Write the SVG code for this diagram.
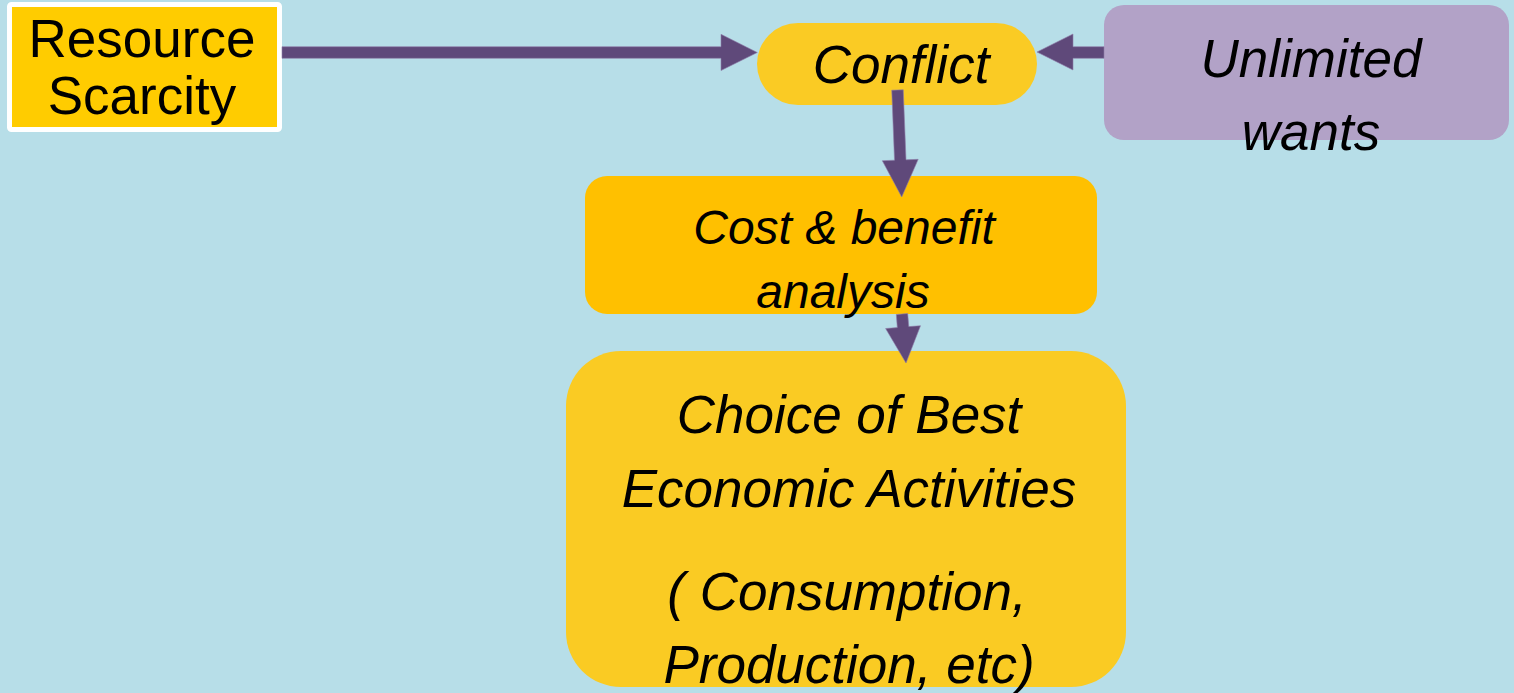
<svg xmlns="http://www.w3.org/2000/svg" width="1514" height="693" viewBox="0 0 1514 693">
  <style>
    .t { font-family: "Liberation Sans", Arial, sans-serif; fill: #000; text-anchor: middle; }
    .i { font-style: italic; }
    .arrow { fill: #5F497A; stroke: #8E7DAA; stroke-width: 0.6; }
  </style>
  <rect x="0" y="0" width="1514" height="693" fill="#B7DEE8"/>

  <g id="node-resource-scarcity">
    <rect x="9.5" y="4.5" width="270" height="125" rx="2" fill="#FFCC00" stroke="#FFFFFF" stroke-width="5"/>
    <text class="t" x="142" y="57" font-size="53">Resource</text>
    <text class="t" x="142" y="114" font-size="53">Scarcity</text>
  </g>

  <g id="node-conflict">
    <rect x="757" y="23" width="280" height="82" rx="41" fill="#FACB24"/>
    <text class="t i" x="901" y="83" font-size="53">Conflict</text>
  </g>

  <g id="node-unlimited-wants">
    <rect x="1104" y="5" width="405" height="135" rx="20" fill="#B2A2C7"/>
    <text class="t i" x="1311" y="77" font-size="53">Unlimited</text>
    <text class="t i" x="1311" y="150" font-size="53">wants</text>
  </g>

  <g id="node-cost-benefit">
    <rect x="585" y="176" width="512" height="138" rx="22" fill="#FFC000"/>
    <text class="t i" x="844" y="244" font-size="48">Cost &amp; benefit</text>
    <text class="t i" x="843" y="308" font-size="48">analysis</text>
  </g>

  <g id="node-choice">
    <rect x="566" y="351" width="560" height="336" rx="55" fill="#FACB23"/>
    <text class="t i" x="849" y="433" font-size="53">Choice of Best</text>
    <text class="t i" x="849" y="507" font-size="53">Economic Activities</text>
    <text class="t i" x="847" y="610" font-size="53">( Consumption,</text>
    <text class="t i" x="849" y="683" font-size="53">Production, etc)</text>
  </g>

  <g id="connectors">
    <polygon class="arrow" points="282,46.7 721,46.7 721,34.3 757.3,52.5 721,70.5 721,58.3 282,58.3"/>
    <polygon class="arrow" points="1104,46.7 1073,46.7 1073,34 1037,52 1073,70 1073,58.3 1104,58.3"/>
    <polygon class="arrow" points="891.75,90.2 903.25,89.8 906,159.8 918.2,159.3 901.7,197 882.3,160.7 894.5,160.2"/>
    <polygon class="arrow" points="896.3,314.5 907.7,313.5 908.8,326.6 920.5,325.7 906,363 885.6,328.5 897.3,327.6"/>
  </g>
</svg>
